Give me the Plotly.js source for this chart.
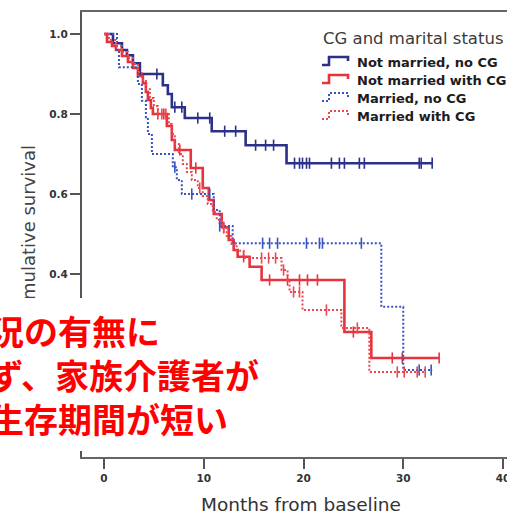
<!DOCTYPE html>
<html><head><meta charset="utf-8">
<script src="https://cdn.plot.ly/plotly-3.0.1.min.js"></script>
<style>html,body{margin:0;padding:0;overflow:hidden;background:#fff}#chart{width:540px;height:515px}</style>
</head><body><div id="chart"></div>
<script>
// ---- data ----
const groupNames = ['Not married, no CG', 'Not married with CG', 'Married, no CG', 'Married with CG'];
const legendTitle = 'CG and marital status';

const notMarriedNoCG_t = [0, 0.9, 1.8, 2.3, 2.9, 3.6, 5.9, 6.4, 6.8, 8.1, 10.8, 14.2, 18.3, 32.9];
const notMarriedNoCG_s = [1.0, 0.977, 0.96, 0.947, 0.927, 0.90, 0.872, 0.85, 0.817, 0.79, 0.757, 0.722, 0.677, 0.677];
const notMarriedNoCG_cens = [5.3, 7.1, 7.8, 9.4, 10.6, 12.1, 13.2, 15.2, 16.2, 17.0, 19.1, 19.6, 19.9, 20.3, 20.6, 22.8, 23.6, 24.1, 25.6, 26.1, 31.6, 31.8, 32.9];

const notMarriedWithCG_t = [0, 0.3, 0.8, 1.2, 1.8, 2.4, 2.9, 3.4, 3.9, 4.2, 4.4, 4.7, 4.9, 6.3, 6.8, 7.1, 8.7, 9.9, 10.5, 11.0, 11.8, 12.5, 13.0, 13.4, 14.6, 15.8, 24.1, 26.8, 33.6];
const notMarriedWithCG_s = [1.0, 0.98, 0.97, 0.96, 0.945, 0.93, 0.915, 0.895, 0.877, 0.855, 0.835, 0.815, 0.80, 0.77, 0.735, 0.71, 0.665, 0.615, 0.585, 0.55, 0.517, 0.485, 0.46, 0.443, 0.418, 0.385, 0.255, 0.19, 0.19];
const notMarriedWithCG_cens = [5.4, 6.0, 7.6, 9.2, 12.0, 14.0, 16.6, 18.4, 19.6, 20.4, 21.4, 25.0, 28.9, 29.9, 33.6];

const marriedNoCG_t = [0, 1.3, 1.5, 3.4, 3.8, 4.2, 4.4, 4.8, 6.9, 7.3, 7.8, 11.0, 11.6, 12.9, 27.8, 30.0, 32.9];
const marriedNoCG_s = [1.0, 0.96, 0.917, 0.875, 0.833, 0.792, 0.75, 0.70, 0.667, 0.635, 0.60, 0.56, 0.52, 0.477, 0.318, 0.16, 0.16];
const marriedNoCG_cens = [7.1, 8.8, 10.6, 11.6, 15.9, 16.6, 17.4, 20.3, 21.6, 21.9, 25.8, 31.6, 32.8];

const marriedWithCG_t = [0, 0.5, 1.2, 1.8, 2.4, 2.9, 3.4, 3.8, 4.2, 4.6, 5.0, 5.4, 6.5, 6.8, 7.1, 7.5, 7.9, 8.3, 8.8, 9.4, 9.9, 10.4, 10.9, 11.3, 11.8, 12.3, 12.8, 13.3, 14.0, 17.8, 18.4, 18.6, 19.9, 23.8, 26.6, 32.2];
const marriedWithCG_s = [1.0, 0.985, 0.97, 0.955, 0.94, 0.925, 0.905, 0.885, 0.862, 0.84, 0.82, 0.80, 0.775, 0.75, 0.725, 0.70, 0.675, 0.655, 0.635, 0.615, 0.595, 0.575, 0.555, 0.535, 0.515, 0.495, 0.475, 0.458, 0.44, 0.41, 0.385, 0.355, 0.31, 0.265, 0.155, 0.155];
const marriedWithCG_cens = [5.8, 6.2, 9.6, 12.0, 15.8, 16.5, 17.2, 18.0, 19.0, 19.6, 22.3, 25.4, 29.4, 30.1, 31.4, 32.2];

const xTickVals = [0, 10, 20, 30, 40];
const yTickVals = [0.0, 0.2, 0.4, 0.6, 0.8, 1.0];
const xTitle = 'Months from baseline';
const yTitle = 'Cumulative survival';
const noteLines = ['婚姻状況の有無に', '関わらず、家族介護者が', 'いると生存期間が短い'];

// ---- styling ----
const groups = [
  {t: notMarriedNoCG_t, s: notMarriedNoCG_s, c: notMarriedNoCG_cens, color: '#2b3088', dash: 'solid', w: 2.6},
  {t: notMarriedWithCG_t, s: notMarriedWithCG_s, c: notMarriedWithCG_cens, color: '#e8333d', dash: 'solid', w: 2.6},
  {t: marriedNoCG_t, s: marriedNoCG_s, c: marriedNoCG_cens, color: '#3852c4', dash: '2px,2px', w: 2},
  {t: marriedWithCG_t, s: marriedWithCG_s, c: marriedWithCG_cens, color: '#ec4752', dash: '2px,2px', w: 2}
];

function stepAt(x, ts, ss) {
  let v = ss[0];
  for (let i = 0; i < ts.length; i++) { if (ts[i] <= x) v = ss[i]; }
  return v;
}

const traces = [];
groups.forEach((g, i) => {
  traces.push({
    x: g.t, y: g.s, type: 'scatter', mode: 'lines', name: groupNames[i],
    line: {shape: 'hv', color: g.color, width: g.w, dash: g.dash},
    showlegend: false, hoverinfo: 'skip'
  });
  traces.push({
    x: g.c, y: g.c.map(v => stepAt(v, g.t, g.s)), type: 'scatter', mode: 'markers',
    name: groupNames[i] + ' (censored)',
    marker: {symbol: 'line-ns', size: 8, color: g.color, line: {color: g.color, width: 1.6}},
    showlegend: false, hoverinfo: 'skip'
  });
});

// geometry helpers (pixel -> paper) for the hand-drawn legend and note box
const L = 82, R = 520, T = 12, B = 457;
const px = p => (p - L) / (R - L);
const py = p => 1 - (p - T) / (B - T);

const annotations = [];
const shapes = [];
annotations.push({
  xref: 'paper', yref: 'paper', x: px(321), y: py(38), xanchor: 'left', yanchor: 'middle',
  text: legendTitle, showarrow: false,
  font: {family: 'DejaVu Sans', size: 16.5, color: '#3a3a3a'}
});
const itemY = [62, 80, 98, 116];
groups.forEach((g, i) => {
  const cy = itemY[i];
  annotations.push({
    xref: 'paper', yref: 'paper', x: px(355), y: py(cy + 0.5), xanchor: 'left', yanchor: 'middle',
    text: groupNames[i], showarrow: false,
    font: {family: 'DejaVu Sans', size: 13, weight: 700, color: '#1c1c1c'}
  });
  const path = `M ${px(322)},${py(cy + 3)} L ${px(329)},${py(cy + 3)} L ${px(329)},${py(cy - 5)} L ${px(348)},${py(cy - 5)} L ${px(348)},${py(cy - 1)}`;
  shapes.push({type: 'path', xref: 'paper', yref: 'paper', path: path,
    line: {color: g.color, width: g.w, dash: g.dash}});
});

// white note box with red text, on top of everything
annotations.push({
  xref: 'paper', yref: 'paper', x: px(-112), y: py(298), xanchor: 'left', yanchor: 'top',
  width: 387, height: 153, align: 'left', valign: 'middle',
  bgcolor: '#ffffff', borderpad: 0, borderwidth: 0, showarrow: false,
  text: noteLines.join('<br>'),
  font: {family: 'Noto Sans CJK JP', size: 34, weight: 700, color: '#ff0000'}
});

const xRange = [-(104 - L) / 9.975, -(104 - L) / 9.975 + (R - L) / 9.975];
const yTop = 1 + (34 - T) / 400;
const yRange = [yTop - (B - T) / 400, yTop];

const layout = {
  width: 540, height: 515,
  margin: {l: L, r: 540 - R, t: T, b: 515 - B},
  paper_bgcolor: '#ffffff', plot_bgcolor: '#ffffff',
  font: {family: 'DejaVu Sans', color: '#333'},
  xaxis: {
    range: xRange, tickvals: xTickVals, ticktext: xTickVals.map(String),
    showgrid: false, zeroline: false, showline: true, mirror: true,
    linecolor: '#666', linewidth: 2,
    ticks: 'outside', ticklen: 10, tickwidth: 2, tickcolor: '#555',
    tickfont: {family: 'DejaVu Sans', size: 10.5, weight: 700, color: '#333'},
    title: {text: xTitle, font: {family: 'DejaVu Sans', size: 18.5, color: '#333'}}
  },
  yaxis: {
    range: yRange, tickvals: yTickVals, ticktext: yTickVals.map(v => v.toFixed(1)),
    showgrid: false, zeroline: false, showline: true,
    linecolor: '#555', linewidth: 2,
    ticks: 'outside', ticklen: 10, tickwidth: 2, tickcolor: '#555',
    tickfont: {family: 'DejaVu Sans', size: 10.5, weight: 700, color: '#333'},
    automargin: false,
    title: {text: yTitle, font: {family: 'DejaVu Sans', size: 18, color: '#444'}}
  },
  showlegend: false,
  annotations: annotations,
  shapes: shapes
};

Plotly.newPlot('chart', traces, layout, {displayModeBar: false, staticPlot: true});
</script></body></html>
